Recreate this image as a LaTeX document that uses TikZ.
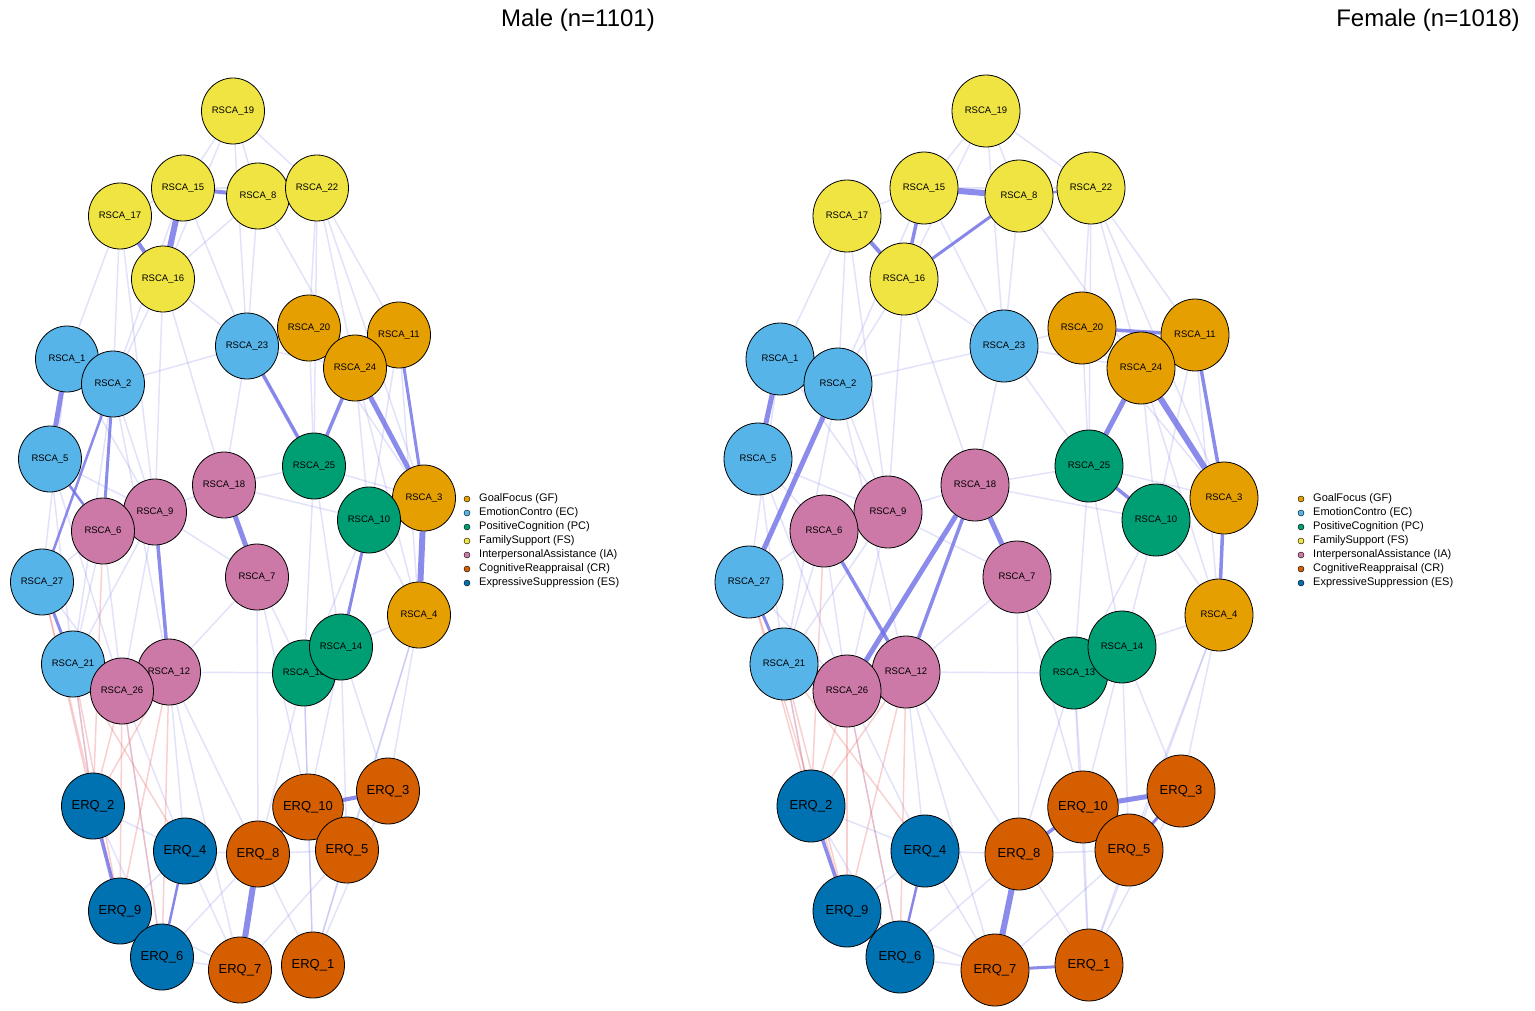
\documentclass[tikz,border=0pt]{standalone}
\usepackage{fontspec}
\setmainfont{Liberation Sans}
\usetikzlibrary{shapes.geometric,backgrounds}
\definecolor{cyel}{HTML}{F0E442}
\definecolor{cora}{HTML}{E69F00}
\definecolor{csky}{HTML}{56B4E9}
\definecolor{cgrn}{HTML}{009E73}
\definecolor{cpnk}{HTML}{CC79A7}
\definecolor{cver}{HTML}{D55E00}
\definecolor{cblu}{HTML}{0072B2}
\definecolor{edgeb}{RGB}{110,110,230}
\definecolor{edger}{RGB}{235,120,120}
\tikzset{
 nd/.style={ellipse,draw=black,line width=0.8pt,minimum width=63pt,minimum height=66pt,inner sep=0pt,font=\fontsize{9.5}{10}\selectfont},
 ndf/.style={nd,minimum width=68pt,minimum height=72pt},
 big/.style={font=\fontsize{13}{14}\selectfont},
 yel/.style={fill=cyel}, ora/.style={fill=cora}, sky/.style={fill=csky},
 grn/.style={fill=cgrn}, pnk/.style={fill=cpnk}, ver/.style={fill=cver,big}, blu/.style={fill=cblu,big},
 faint/.style={draw=edgeb,opacity=0.2,line width=1.5pt},
 strong/.style={draw=edgeb,opacity=0.8,line width=4.5pt},
 redl/.style={draw=edger,opacity=0.35,line width=1.5pt},
 lg/.style={circle,draw=black,line width=0.4pt,minimum size=6pt,inner sep=0pt},
 lt/.style={anchor=west,font=\fontsize{11}{12}\selectfont,inner sep=0pt}
}
\begin{document}
\begin{tikzpicture}[x=1pt,y=-1pt]
\useasboundingbox (0,0) rectangle (1535,1010);
\node[font=\fontsize{24}{26}\selectfont] (tm) at (578,20) {Male (n=1101)};
\node[font=\fontsize{24}{26}\selectfont] (tf) at (1428,20) {Female (n=1018)};
% Male nodes
\foreach \n/\x/\y/\s/\t in {R19/233/111/yel/RSCA\_19,R15/183/188/yel/RSCA\_15,R17/120/216/yel/RSCA\_17,R8/258/196/yel/RSCA\_8,R22/317/188/yel/RSCA\_22,R16/163/279/yel/RSCA\_16,
 R20/309/328/ora/RSCA\_20,R11/399/335/ora/RSCA\_11,R23/247/346/sky/RSCA\_23,R24/355/368/ora/RSCA\_24,R1/67/359/sky/RSCA\_1,R2/113/384/sky/RSCA\_2,R5/50/459/sky/RSCA\_5,
 R25/314/466/grn/RSCA\_25,R18/224/485/pnk/RSCA\_18,R3/424/498/ora/RSCA\_3,R9/155/512/pnk/RSCA\_9,R6/103/531/pnk/RSCA\_6,R10/369/520/grn/RSCA\_10,R7/257/577/pnk/RSCA\_7,
 R27/42/582/sky/RSCA\_27,R4/419/615/ora/RSCA\_4,R13/304/673/grn/RSCA\_13,R14/341/647/grn/RSCA\_14,R21/73/664/sky/RSCA\_21,R12/169/672/pnk/RSCA\_12,R26/122/691/pnk/RSCA\_26,
 E2/93/806/blu/ERQ\_2,E3/388/791/ver/ERQ\_3,E10/308/807/ver/ERQ\_10,E4/185/851/blu/ERQ\_4,E8/258/854/ver/ERQ\_8,E5/347/850/ver/ERQ\_5,E9/120/911/blu/ERQ\_9,E6/162/957/blu/ERQ\_6,E7/240/970/ver/ERQ\_7,E1/313/965/ver/ERQ\_1}
 \node[nd,\s] (m\n) at (\x,\y) {\t};
% Female nodes
\foreach \n/\x/\y/\s/\t in {R19/986/111/yel/RSCA\_19,R15/924/188/yel/RSCA\_15,R17/847/216/yel/RSCA\_17,R8/1019/196/yel/RSCA\_8,R22/1091/188/yel/RSCA\_22,R16/904/279/yel/RSCA\_16,
 R20/1082/328/ora/RSCA\_20,R11/1195/335/ora/RSCA\_11,R23/1004/346/sky/RSCA\_23,R24/1141/368/ora/RSCA\_24,R1/780/359/sky/RSCA\_1,R2/838/384/sky/RSCA\_2,R5/758/459/sky/RSCA\_5,
 R25/1089/466/grn/RSCA\_25,R18/975/485/pnk/RSCA\_18,R3/1224/498/ora/RSCA\_3,R9/888/512/pnk/RSCA\_9,R6/824/531/pnk/RSCA\_6,R10/1156/520/grn/RSCA\_10,R7/1017/577/pnk/RSCA\_7,
 R27/749/582/sky/RSCA\_27,R4/1219/615/ora/RSCA\_4,R13/1074/673/grn/RSCA\_13,R14/1122/647/grn/RSCA\_14,R21/784/664/sky/RSCA\_21,R12/906/672/pnk/RSCA\_12,R26/847/691/pnk/RSCA\_26,
 E2/811/806/blu/ERQ\_2,E3/1181/791/ver/ERQ\_3,E10/1083/807/ver/ERQ\_10,E4/925/851/blu/ERQ\_4,E8/1019/854/ver/ERQ\_8,E5/1129/850/ver/ERQ\_5,E9/847/911/blu/ERQ\_9,E6/900/957/blu/ERQ\_6,E7/995/970/ver/ERQ\_7,E1/1089/965/ver/ERQ\_1}
 \node[ndf,\s] (f\n) at (\x,\y) {\t};
\begin{scope}[on background layer]
\foreach \p in {m,f}{
 \foreach \a/\b in {R19/R8,R19/R15,R19/R22,R19/R23,R22/R24,R22/R11,R22/R20,R8/R23,R8/R16,R17/R1,R17/R2,R16/R2,R16/R9,R16/R18,R23/R18,R23/R2,R23/R20,R23/R24,R11/R24,R11/R4,R24/R10,R24/R4,R25/R14,R25/R13,R10/R4,R10/R13,R3/R10,R14/R13,R14/R4,R5/R6,R5/R9,R2/R9,R1/R9,R6/R27,R6/R26,R9/R26,R18/R9,R7/R12,R7/R13,R27/R26,R21/R12,R13/E10,R14/E3,R14/E5,R4/E3,R4/E5,R13/E8,R26/E4,R12/E8,R7/E10,R10/E10,E2/E4,E4/E9,E4/E8,E4/E6,E8/E5,E10/E5,E3/E5,E5/E1,E8/E1,E6/E7,E9/E7,E2/E6,E6/E8,E4/E7,E10/E1,E3/E1,E5/E7,R1/R27,R5/R21,R2/R12,R15/R23,R16/R23,R15/R22,R17/R15,R8/R24,R22/R25,R20/R25,R25/R3,R23/R25,R17/R9,R15/R2,R19/R16,R22/R3,R18/R25,R18/R10,R9/R7,R12/E4,R26/E6,R21/E2,R13/E1,R4/E1,R5/R26,R2/R21,R6/R21,R12/R13,R20/R3,R11/R10,R7/E8,R12/E7,R9/R21}
  \draw[faint] (\p\a) -- (\p\b);
 \foreach \a/\b in {E2/R26,E2/R21,E2/R12,E9/R26,E9/R21,E6/R26,E9/R12,E2/R27,E6/R12,E9/R27,E4/R21,E2/R6}
  \draw[redl] (\p\a) -- (\p\b);
}
\foreach \a/\b/\w in {R15/R16/6,R17/R16/4,R15/R8/4,R8/R22/3,R1/R5/5,R1/R2/3,R18/R7/5,R3/R4/6,R24/R3/5,R24/R25/3.5,R23/R25/3.5,R9/R12/3.5,R2/R6/3,R21/R26/3,R27/R21/3,R10/R14/3,R20/R24/3,R11/R3/3,E8/E7/6,E10/E3/4,E2/E9/3.5,E9/E6/3.5,E8/E10/2.5,E4/E6/2.5,R5/R6/2.5,R2/R27/2.5}
  \draw[strong,line width=\w pt] (m\a) -- (m\b);
\foreach \a/\b/\w in {R15/R8/6,R17/R16/4,R15/R16/3.5,R16/R8/3,R8/R22/2.5,R2/R27/5,R1/R5/5,R1/R2/3,R18/R26/5,R18/R7/5,R18/R12/3.5,R24/R25/5,R24/R3/6,R11/R3/3.5,R25/R10/3.5,R6/R12/3.5,R20/R11/3.5,R4/R3/3.5,R27/R21/3,E10/E3/5,E8/E7/6,E2/E9/3.5,E9/E6/3.5,E8/E10/3.5,E7/E1/3,E3/E5/3,E4/E6/2.5}
  \draw[strong,line width=\w pt] (f\a) -- (f\b);
\end{scope}
% legends
\foreach \p/\lx in {m/467,f/1301}{
 \foreach \c/\t [count=\i] in {cora/GoalFocus (GF),csky/EmotionContro (EC),cgrn/PositiveCognition (PC),cyel/FamilySupport (FS),cpnk/InterpersonalAssistance (IA),cver/CognitiveReappraisal (CR),cblu/ExpressiveSuppression (ES)}{
  \node[lg,fill=\c] (\p lg\i) at (\lx,485+14*\i) {};
  \node[lt] (\p lt\i) at (\lx+12,485+14*\i) {\t};
 }
}
\end{tikzpicture}
\end{document}
